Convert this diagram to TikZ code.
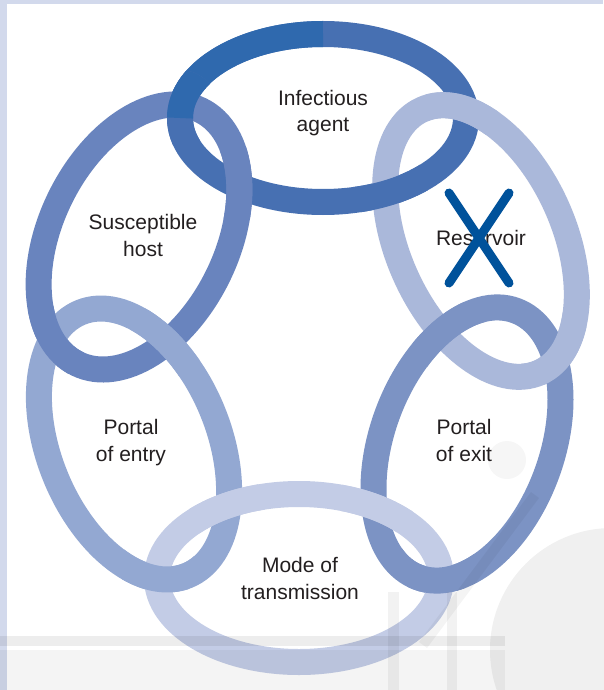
\documentclass[tikz,border=0pt]{standalone}
\usepackage{fontspec}
\setmainfont{Liberation Sans}
\definecolor{iaC}{HTML}{4770B2}
\definecolor{iaD}{HTML}{2F69AE}
\definecolor{shC}{HTML}{6984BE}
\definecolor{rvC}{HTML}{AAB8DA}
\definecolor{exC}{HTML}{7C93C4}
\definecolor{enC}{HTML}{93A8D2}
\definecolor{moC}{HTML}{C3CCE6}
\definecolor{xC}{HTML}{00529B}
\definecolor{txtC}{HTML}{231F20}
\definecolor{bandC}{HTML}{D2D9EC}
\tikzset{
  ring/.style={line width=26pt},
  lbl/.style={font=\fontsize{21}{26.5}\selectfont, text=txtC, align=center, anchor=north, inner sep=0pt},
  wm/.style={fill=black, fill opacity=0.07},
}
\newcommand\ringIA{\draw[ring,iaC] (323,118) ellipse[x radius=143,y radius=84];
  \draw[ring,iaD] (180,118) arc[start angle=180,end angle=270,x radius=143,y radius=84];}
\newcommand\ringSH{\draw[ring,shC,shift={(139,237)},rotate=-26] (0,0) ellipse[x radius=88,y radius=141];}
\newcommand\ringRV{\draw[ring,rvC,shift={(481,241)},rotate=24] (0,0) ellipse[x radius=83,y radius=144];}
\newcommand\ringEX{\draw[ring,exC,shift={(467,444)},rotate=-20] (0,0) ellipse[x radius=85,y radius=142];}
\newcommand\ringEN{\draw[ring,enC,shift={(134,444)},rotate=22] (0,0) ellipse[x radius=85,y radius=142];}
\newcommand\ringMO{\draw[ring,moC] (299,578) ellipse[x radius=142,y radius=84];}
\newcommand\ringover[2]{\begin{scope}\clip (#2) circle[radius=38pt]; #1\end{scope}}
\begin{document}
\begin{tikzpicture}[x=1pt,y=-1pt]
\useasboundingbox (0,0) rectangle (603,690);
\fill[white] (0,0) rectangle (603,690);
\fill[bandC] (0,0) rectangle (603,4);
\fill[bandC] (0,0) rectangle (7,690);
% rings
\ringIA \ringSH \ringRV \ringEX \ringEN \ringMO
% over/under at crossings
\ringover{\ringIA}{180,108}
\ringover{\ringSH}{238,184}
\ringover{\ringRV}{462,105}
\ringover{\ringIA}{390,188}
\ringover{\ringEX}{450,337}
\ringover{\ringRV}{557,350}
\ringover{\ringMO}{377,500}
\ringover{\ringEX}{437,563}
\ringover{\ringMO}{227,507}
\ringover{\ringEN}{158,567}
\ringover{\ringSH}{47,343}
\ringover{\ringEN}{167,340}
% faint watermark
\fill[wm] (0,636) rectangle (505,646);
\fill[wm, fill opacity=0.045] (0,650) rectangle (505,690);
\fill[wm, fill opacity=0.06] (612,650) circle[radius=122pt];
\fill[wm, fill opacity=0.035] (507,460) circle[radius=19pt];
\draw[black, draw opacity=0.045, line width=10pt] (535,495) -- (423,645);
\fill[wm, fill opacity=0.05] (388,592) rectangle (399,690);
\fill[wm, fill opacity=0.05] (447,592) rectangle (457,690);
% labels
\node[lbl] (ia) at (323,90) {Infectious\\agent};
\node[lbl] (sh) at (143,214.5) {Susceptible\\host};
\node[lbl] (rv) at (481,230) {Reservoir};
\node[lbl] (ex) at (464,419.5) {Portal\\of exit};
\node[lbl] (en) at (131,419.5) {Portal\\of entry};
\node[lbl] (mo) at (300,557.5) {Mode of\\transmission};
% cross over reservoir
\coordinate (x1) at (449,193);
\coordinate (x2) at (509,283);
\coordinate (x3) at (509,193);
\coordinate (x4) at (449,283);
\draw[xC, line width=9pt, line cap=round] (x1) -- (x2) (x3) -- (x4);
\end{tikzpicture}
\end{document}
